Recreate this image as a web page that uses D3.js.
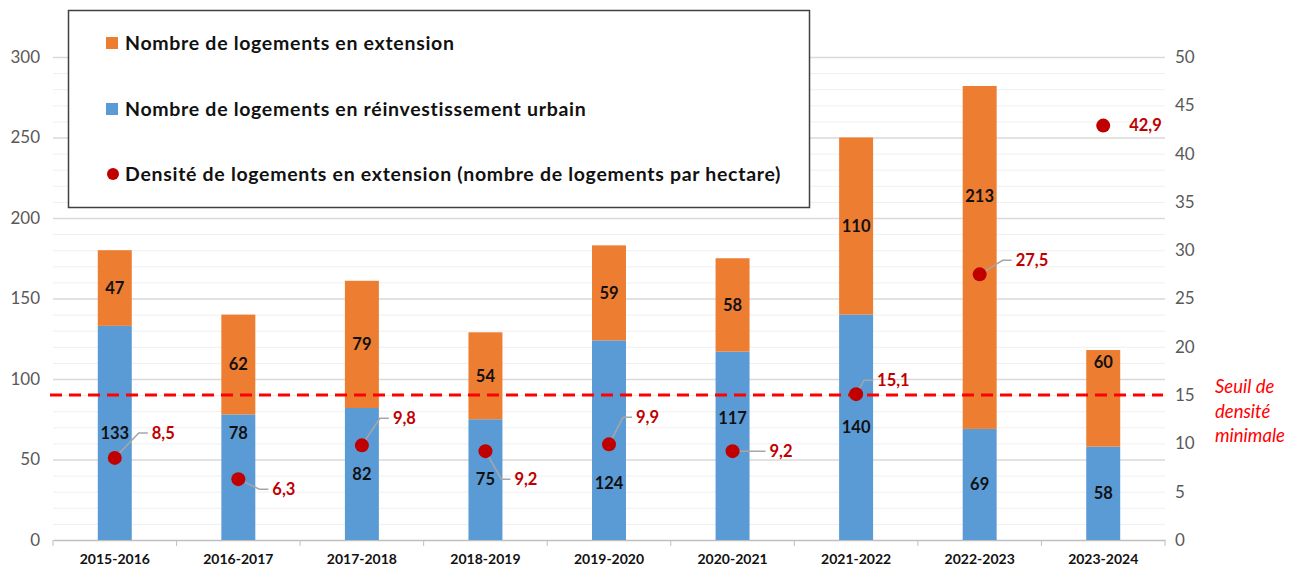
<!DOCTYPE html>
<meta charset='utf-8'>
<style>
html, body {
  margin: 0;
  padding: 0;
  background: #fff;
}
svg text {
  font-family: Lato, 'Open Sans', sans-serif;
}
.tick-lab {
  fill: #595959;
  font-size: 17px;
}
.val {
  font-weight: bold;
  font-size: 16.5px;
  fill: #111;
}
.dens {
  font-weight: bold;
  font-size: 16.5px;
  fill: #c00000;
}
</style>
<body>
<div id='chart'></div>
<script src='https://cdn.jsdelivr.net/npm/d3@7/dist/d3.min.js'></script>
<script>

// data
var periods = ['2015-2016', '2016-2017', '2017-2018', '2018-2019', '2019-2020',
  '2020-2021', '2021-2022', '2022-2023', '2023-2024'];
var reinvest = [133, 78, 82, 75, 124, 117, 140, 69, 58];
var extension = [47, 62, 79, 54, 59, 58, 110, 213, 60];
var density = [8.5, 6.3, 9.8, 9.2, 9.9, 9.2, 15.1, 27.5, 42.9];
var seuil = 15;
var leftTicks = [0, 50, 100, 150, 200, 250, 300];
var rightTicks = [0, 5, 10, 15, 20, 25, 30, 35, 40, 45, 50];
var legendLabels = ['Nombre de logements en extension',
  'Nombre de logements en réinvestissement urbain',
  'Densité de logements en extension (nombre de logements par hectare)'];

// label placement (layout only)
var densLab = [[37, -25], [34, 10], [31, -27], [29, 28], [27, -27], [37, 0], [21, -14], [36, -14], [26, 0]];
var extLabShift = [0, 0, 0, 0, 0, 0, 0, -61, -36];
var reiLabShift = [0, -44, 0, 0, 43, -28, 0, 0, 0];

var W = 1294, H = 569;
var x0 = 53, x1 = 1165, yBot = 540, yTop = 57;

var svg = d3.select('#chart').append('svg')
  .attr('width', W)
  .attr('height', H);

var x = d3.scaleBand().domain(periods).range([x0, x1]).paddingInner(0.725).paddingOuter(0.3625);
var y = d3.scaleLinear().domain([0, 300]).range([yBot, yTop]);
var y2 = d3.scaleLinear().domain([0, 50]).range([yBot, yTop]);

// grid
var minor = d3.range(10, 301, 10).filter(function(d){ return d % 50; });
svg.append('g').selectAll('line').data(minor).enter().append('line')
  .attr('x1', x0).attr('x2', x1)
  .attr('y1', function(d){ return y(d) + 0.5; }).attr('y2', function(d){ return y(d) + 0.5; })
  .attr('stroke', '#efefef').attr('stroke-width', 1);
svg.append('g').selectAll('line').data(leftTicks.slice(1)).enter().append('line')
  .attr('x1', x0).attr('x2', x1)
  .attr('y1', function(d){ return y(d) + 0.5; }).attr('y2', function(d){ return y(d) + 0.5; })
  .attr('stroke', '#d9d9d9').attr('stroke-width', 1.5);

// left axis labels
svg.append('g').selectAll('text').data(leftTicks).enter().append('text')
  .attr('class', 'tick-lab')
  .attr('x', 40).attr('y', function(d){ return y(d); })
  .attr('dy', '0.35em').attr('text-anchor', 'end')
  .text(function(d){ return d; });

// right axis labels
svg.append('g').selectAll('text').data(rightTicks).enter().append('text')
  .attr('class', 'tick-lab')
  .attr('x', 1175).attr('y', function(d){ return y2(d); })
  .attr('dy', '0.35em')
  .text(function(d){ return d; });

// bottom axis
var xa = svg.append('g').attr('transform', 'translate(0,' + yBot + ')')
  .call(d3.axisBottom(x).tickSize(0).tickPadding(14));
xa.select('.domain').attr('stroke', '#bfbfbf').attr('stroke-width', 1.5);
xa.selectAll('text').style('font-family', 'Lato, sans-serif').style('font-size', '14px')
  .style('font-weight', 'bold').attr('fill', '#111');
var step = x.step();
svg.append('g').selectAll('line').data(d3.range(periods.length + 1)).enter().append('line')
  .attr('x1', function(i){ return x0 + i * step; }).attr('x2', function(i){ return x0 + i * step; })
  .attr('y1', yBot).attr('y2', yBot + 6)
  .attr('stroke', '#bfbfbf');

// stacked bars
var rows = periods.map(function(p, i){ return {p: p, reinvest: reinvest[i], extension: extension[i], i: i}; });
var stack = d3.stack().keys(['reinvest', 'extension'])(rows);
var colors = {reinvest: '#5b9bd5', extension: '#ed7d31'};

stack.forEach(function(layer){
  svg.append('g').selectAll('rect').data(layer).enter().append('rect')
    .attr('x', function(d){ return x(d.data.p); })
    .attr('width', x.bandwidth())
    .attr('y', function(d){ return y(d[1]); })
    .attr('height', function(d){ return y(d[0]) - y(d[1]); })
    .attr('fill', colors[layer.key]);
  svg.append('g').selectAll('text').data(layer).enter().append('text')
    .attr('class', 'val')
    .attr('x', function(d){ return x(d.data.p) + x.bandwidth() / 2; })
    .attr('y', function(d){
      var c = (y(d[0]) + y(d[1])) / 2;
      c += (layer.key == 'extension' ? extLabShift : reiLabShift)[d.data.i];
      return c;
    })
    .attr('dy', '0.35em').attr('text-anchor', 'middle')
    .text(function(d){ return d.data[layer.key]; });
});

// threshold
svg.append('line')
  .attr('x1', 50).attr('x2', 1163)
  .attr('y1', y2(seuil)).attr('y2', y2(seuil))
  .attr('stroke', '#ff0000').attr('stroke-width', 3)
  .attr('stroke-dasharray', '12,7');

var seuilTxt = svg.append('text')
  .attr('x', 1215).attr('y', y2(seuil) - 2)
  .style('font-size', '18.5px').style('font-style', 'italic')
  .attr('fill', '#ff0000');
['Seuil de', 'densité', 'minimale'].forEach(function(t, i){
  seuilTxt.append('tspan').attr('x', 1215).attr('dy', i ? 24.5 : 0).text(t);
});

// density dots + leaders + labels
var dens = svg.append('g');
density.forEach(function(v, i){
  var cx = x(periods[i]) + x.bandwidth() / 2, cy = y2(v);
  var off = densLab[i];
  var lx = cx + off[0] - 4, ly = cy + off[1];
  if (i < density.length - 1) {
    var pts;
    if (off[1] === 0) pts = [[cx, cy], [lx, ly]];
    else pts = [[cx, cy], [lx - 9, ly], [lx, ly]];
    dens.append('path')
      .attr('d', d3.line()(pts))
      .attr('fill', 'none').attr('stroke', '#a6a6a6').attr('stroke-width', 1.5);
  }
  dens.append('circle')
    .attr('cx', cx).attr('cy', cy).attr('r', 7)
    .attr('fill', '#c00000');
  dens.append('text')
    .attr('class', 'dens')
    .attr('x', cx + off[0]).attr('y', ly)
    .attr('dy', '0.35em')
    .text(d3.format('.1f')(v).replace('.', ','));
});

// legend
var lg = svg.append('g');
lg.append('rect')
  .attr('x', 68.5).attr('y', 10.5).attr('width', 741).attr('height', 197)
  .attr('fill', '#fff').attr('stroke', '#404040').attr('stroke-width', 1.5);
var ly0 = [43, 109, 174];
legendLabels.forEach(function(t, i){
  if (i < 2) {
    lg.append('rect').attr('x', 106).attr('y', ly0[i] - 6).attr('width', 12).attr('height', 12)
      .attr('fill', i == 0 ? colors.extension : colors.reinvest);
  } else {
    lg.append('circle').attr('cx', 113).attr('cy', ly0[i]).attr('r', 6).attr('fill', '#c00000');
  }
  lg.append('text')
    .attr('x', 125).attr('y', ly0[i]).attr('dy', '0.35em')
    .style('font-size', '19.5px').style('font-weight', 'bold')
    .style('letter-spacing', '0.7px')
    .attr('fill', '#111')
    .text(t);
});

</script>
</body>
